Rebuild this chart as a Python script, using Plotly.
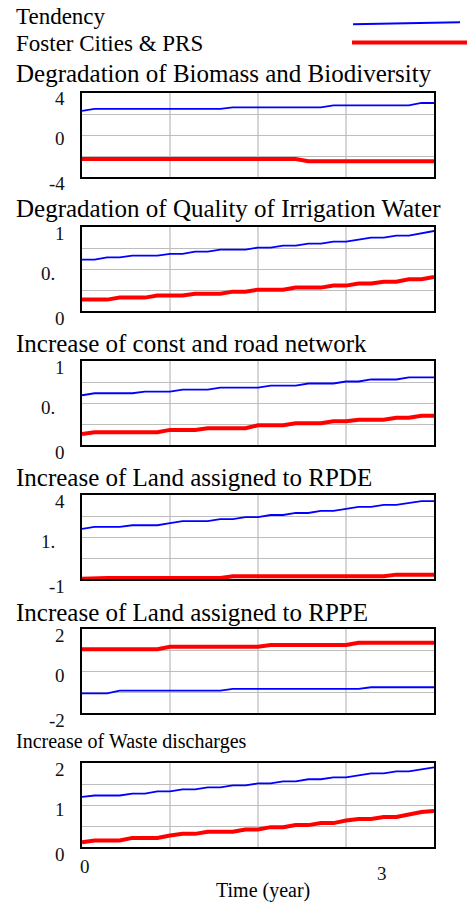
import plotly.graph_objects as go

# ---------------- data ----------------
time_year = [0, 0.125, 0.25, 0.375, 0.5, 0.625, 0.75, 0.875, 1.0, 1.125, 1.25, 1.375,
             1.5, 1.625, 1.75, 1.875, 2.0, 2.125, 2.25, 2.375, 2.5, 2.625, 2.75, 2.875,
             3.0, 3.125, 3.25, 3.375, 3.5]

series_names = ["Tendency", "Foster Cities & PRS"]

panel_titles = [
    "Degradation of Biomass and Biodiversity",
    "Degradation of Quality of Irrigation Water",
    "Increase of const and road network",
    "Increase of Land assigned to RPDE",
    "Increase of Land assigned to RPPE",
    "Increase of Waste discharges",
]

biomass_tendency = [2.29, 2.48, 2.48, 2.48, 2.48, 2.48, 2.48, 2.48, 2.48, 2.48, 2.48, 2.48,
                    2.64, 2.64, 2.64, 2.64, 2.64, 2.64, 2.64, 2.64, 2.83, 2.83, 2.83, 2.83,
                    2.83, 2.83, 2.83, 3.05, 3.05]
biomass_foster = [-2.29, -2.29, -2.29, -2.29, -2.29, -2.29, -2.29, -2.29, -2.29, -2.29,
                  -2.29, -2.29, -2.29, -2.29, -2.29, -2.29, -2.29, -2.29, -2.5, -2.5,
                  -2.5, -2.5, -2.5, -2.5, -2.5, -2.5, -2.5, -2.5, -2.5]

water_tendency = [0.615, 0.615, 0.643, 0.643, 0.663, 0.663, 0.663, 0.683, 0.683, 0.71,
                  0.71, 0.734, 0.734, 0.734, 0.758, 0.758, 0.782, 0.782, 0.806, 0.806,
                  0.83, 0.83, 0.854, 0.877, 0.877, 0.90, 0.90, 0.929, 0.956]
water_foster = [0.139, 0.139, 0.139, 0.163, 0.163, 0.163, 0.187, 0.187, 0.187, 0.21,
                0.21, 0.21, 0.234, 0.234, 0.258, 0.258, 0.258, 0.282, 0.282, 0.282,
                0.306, 0.306, 0.33, 0.33, 0.353, 0.353, 0.381, 0.381, 0.408]

road_tendency = [0.592, 0.616, 0.616, 0.616, 0.616, 0.636, 0.636, 0.636, 0.66, 0.66,
                 0.66, 0.684, 0.684, 0.684, 0.684, 0.708, 0.708, 0.708, 0.732, 0.732,
                 0.732, 0.756, 0.756, 0.78, 0.78, 0.78, 0.804, 0.804, 0.804]
road_foster = [0.132, 0.151, 0.151, 0.151, 0.151, 0.151, 0.151, 0.18, 0.18, 0.18,
               0.2, 0.2, 0.2, 0.2, 0.235, 0.235, 0.235, 0.259, 0.259, 0.259,
               0.283, 0.283, 0.3, 0.3, 0.3, 0.324, 0.324, 0.348, 0.348]

rpde_tendency = [1.98, 2.10, 2.10, 2.10, 2.20, 2.20, 2.20, 2.32, 2.44, 2.44,
                 2.44, 2.56, 2.56, 2.68, 2.68, 2.81, 2.81, 2.93, 2.93, 3.05,
                 3.05, 3.17, 3.29, 3.29, 3.41, 3.41, 3.53, 3.64, 3.64]
rpde_foster = [-0.98, -0.94, -0.94, -0.94, -0.94, -0.94, -0.94, -0.94, -0.94, -0.94,
               -0.94, -0.94, -0.84, -0.84, -0.84, -0.84, -0.84, -0.84, -0.84, -0.84,
               -0.84, -0.84, -0.84, -0.84, -0.84, -0.74, -0.74, -0.74, -0.74]

rppe_tendency = [-1.05, -1.05, -1.05, -0.92, -0.92, -0.92, -0.92, -0.92, -0.92, -0.92,
                 -0.92, -0.92, -0.84, -0.84, -0.84, -0.84, -0.84, -0.84, -0.84, -0.84,
                 -0.84, -0.84, -0.84, -0.76, -0.76, -0.76, -0.76, -0.76, -0.76]
rppe_foster = [1.05, 1.05, 1.05, 1.05, 1.05, 1.05, 1.05, 1.17, 1.17, 1.17,
               1.17, 1.17, 1.17, 1.17, 1.17, 1.25, 1.25, 1.25, 1.25, 1.25,
               1.25, 1.25, 1.36, 1.36, 1.36, 1.36, 1.36, 1.36, 1.36]

waste_tendency = [1.20, 1.233, 1.233, 1.233, 1.28, 1.28, 1.33, 1.33, 1.378, 1.378,
                  1.425, 1.425, 1.474, 1.474, 1.52, 1.52, 1.57, 1.57, 1.62, 1.62,
                  1.666, 1.666, 1.714, 1.76, 1.76, 1.81, 1.81, 1.857, 1.905]
waste_foster = [0.12, 0.16, 0.16, 0.16, 0.224, 0.224, 0.224, 0.28, 0.32, 0.32,
                0.368, 0.368, 0.368, 0.424, 0.424, 0.48, 0.48, 0.528, 0.528, 0.576,
                0.576, 0.64, 0.672, 0.672, 0.72, 0.72, 0.785, 0.84, 0.864]

y_ranges = [[-4, 4], [0, 1], [0, 1], [-1, 4], [-2, 2], [0, 2]]
y_tick_labels = [["4", "0", "-4"], ["1", "0.", "0"], ["1", "0.", "0"],
                 ["4", "1.", "-1"], ["2", "0", "-2"], ["2", "1", "0"]]

x_tick_values = [0, 3]
x_tick_labels = ["0", "3"]
x_title = "Time (year)"

panel_data = [
    (biomass_tendency, biomass_foster),
    (water_tendency, water_foster),
    (road_tendency, road_foster),
    (rpde_tendency, rpde_foster),
    (rppe_tendency, rppe_foster),
    (waste_tendency, waste_foster),
]

# ---------------- layout ----------------
W, H = 476, 904
FONT = "Liberation Serif"
BLUE, RED = "#0000ff", "#ff0000"

box_left, box_right = 82, 434
box_tops = [93, 227.3, 361, 495, 629.3, 763.3]
box_height = 84
title_centers = [74, 209, 344, 477.5, 612, 741]
title_sizes = [25, 25, 25, 25, 25, 20]


def px_x(p):
    return p / W


def px_y(p):
    return 1 - p / H


fig = go.Figure()
layout = dict(
    width=W, height=H,
    margin=dict(l=0, r=0, t=0, b=0),
    paper_bgcolor="white", plot_bgcolor="white",
    showlegend=False,
    font=dict(family=FONT, color="#111111"),
)
annotations = []
shapes = []

for i, (tend, fost) in enumerate(panel_data):
    n = i + 1
    xa = "x" if n == 1 else f"x{n}"
    ya = "y" if n == 1 else f"y{n}"
    xkey = "xaxis" if n == 1 else f"xaxis{n}"
    ykey = "yaxis" if n == 1 else f"yaxis{n}"
    top = box_tops[i]
    bot = top + box_height
    lo, hi = y_ranges[i]

    layout[xkey] = dict(
        domain=[px_x(box_left), px_x(box_right)], range=[0, 3.5], anchor=ya,
        showline=True, mirror=True, linecolor="black", linewidth=2,
        showgrid=True, gridcolor="#d6d6d6", gridwidth=1.5,
        tickvals=[0.875, 1.75, 2.625], showticklabels=False, ticks="",
        zeroline=False, fixedrange=True,
    )
    layout[ykey] = dict(
        domain=[px_y(bot), px_y(top)], range=[lo, hi], anchor=xa,
        showline=True, mirror=True, linecolor="black", linewidth=2,
        showgrid=True, gridcolor="#bdbdbd", gridwidth=1,
        tickvals=[lo + (hi - lo) * q / 4 for q in (1, 2, 3)],
        showticklabels=False, ticks="", zeroline=False, fixedrange=True,
    )

    fig.add_trace(go.Scatter(x=time_year, y=tend, mode="lines", name=series_names[0],
                             line=dict(color=BLUE, width=1.8), xaxis=xa, yaxis=ya))
    fig.add_trace(go.Scatter(x=time_year, y=fost, mode="lines", name=series_names[1],
                             line=dict(color=RED, width=4), xaxis=xa, yaxis=ya))

    # panel title
    annotations.append(dict(
        text=panel_titles[i], xref="paper", yref="paper",
        x=px_x(14), y=px_y(title_centers[i]), xanchor="left", yanchor="middle",
        showarrow=False, font=dict(size=title_sizes[i], color="black", family=FONT),
    ))

    # y tick labels (top, middle, bottom)
    for label, val, shift in zip(y_tick_labels[i], [hi, (lo + hi) / 2, lo], [-6, -4, -7]):
        right = 57 if label.endswith(".") else 67
        annotations.append(dict(
            text=label, xref="paper", yref=ya, x=px_x(right), y=val,
            xanchor="right", yanchor="middle", yshift=shift, showarrow=False,
            font=dict(size=19, color="#111111", family=FONT),
        ))

# x tick labels under the last panel (staggered like the source)
last_x = f"x{len(panel_data)}"
for label, val, ycen, xs in zip(x_tick_labels, x_tick_values, [866.7, 873], [3, -2]):
    annotations.append(dict(
        text=label, xref=last_x, yref="paper", x=val, y=px_y(ycen), xshift=xs,
        xanchor="center", yanchor="middle", showarrow=False,
        font=dict(size=19, color="#111111", family=FONT),
    ))

annotations.append(dict(
    text=x_title, xref="paper", yref="paper", x=px_x(263), y=px_y(890.7),
    xanchor="center", yanchor="middle", showarrow=False,
    font=dict(size=20, color="black", family=FONT),
))

# legend block
for name, ycen in zip(series_names, [16.5, 43.5]):
    annotations.append(dict(
        text=name, xref="paper", yref="paper", x=px_x(14), y=px_y(ycen),
        xanchor="left", yanchor="middle", showarrow=False,
        font=dict(size=23, color="black", family=FONT),
    ))
shapes.append(dict(type="line", xref="paper", yref="paper",
                   x0=px_x(353), y0=px_y(24.3), x1=px_x(460), y1=px_y(22.3),
                   line=dict(color=BLUE, width=2)))
shapes.append(dict(type="line", xref="paper", yref="paper",
                   x0=px_x(352), y0=px_y(42.5), x1=px_x(467), y1=px_y(42.5),
                   line=dict(color=RED, width=4)))

layout["annotations"] = annotations
layout["shapes"] = shapes
fig.update_layout(**layout)

fig.write_html("out.html")
